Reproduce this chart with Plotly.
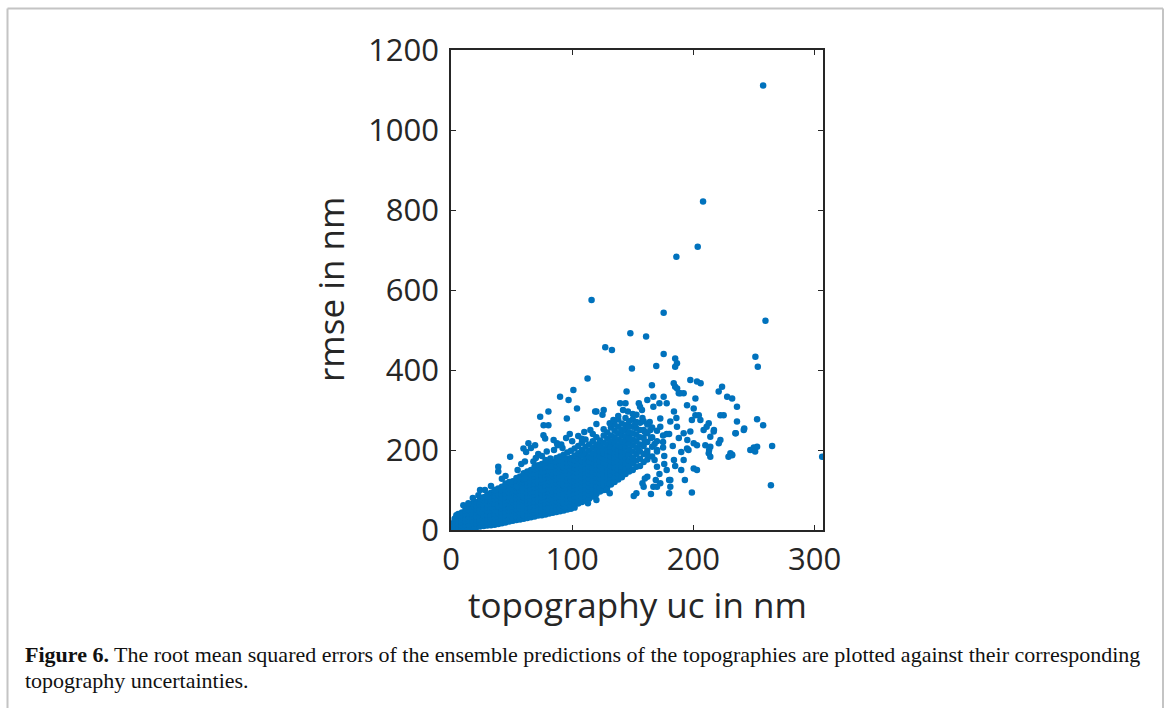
import plotly.graph_objects as go

# Dense core of the cloud: one column of rmse values (nm) per topography-uc value (nm)
core_x = [1, 3, 6, 9, 12, 15, 18, 21, 24, 27, 30, 33, 36, 39, 42, 45, 48, 51, 54, 57,
          60, 63, 66, 69, 72, 75, 78, 81, 84, 87, 90, 93, 96, 99, 102]
core_y = [
    [0, 5, 10, 16],
    [0, 7, 14, 21, 28],
    [2, 9, 17, 25, 33, 40],
    [3, 11, 19, 27, 35, 44],
    [4, 12, 21, 30, 39, 48, 55],
    [5, 14, 23, 32, 41, 50, 58],
    [6, 15, 24, 33, 42, 51, 60, 66],
    [7, 16, 25, 34, 43, 52, 61, 70],
    [9, 18, 27, 36, 45, 54, 63, 72, 78],
    [10, 19, 28, 37, 46, 55, 64, 73, 82],
    [11, 20, 29, 38, 47, 56, 65, 74, 83, 88],
    [12, 21, 30, 39, 48, 57, 66, 75, 84, 93],
    [13, 22, 31, 40, 49, 58, 67, 76, 85, 94, 100],
    [15, 24, 33, 42, 51, 60, 69, 78, 87, 96, 104],
    [17, 26, 35, 44, 53, 62, 71, 80, 89, 98, 108],
    [19, 28, 37, 46, 55, 64, 73, 82, 91, 100, 109, 116],
    [21, 30, 39, 48, 57, 66, 75, 84, 93, 102, 111, 120],
    [23, 32, 41, 50, 59, 68, 77, 86, 95, 104, 113, 122],
    [25, 34, 43, 52, 61, 70, 79, 88, 97, 106, 115, 124, 130],
    [26, 35, 44, 53, 62, 71, 80, 89, 98, 107, 116, 125, 134],
    [28, 37, 46, 55, 64, 73, 82, 91, 100, 109, 118, 127, 136, 142],
    [30, 39, 48, 57, 66, 75, 84, 93, 102, 111, 120, 129, 138, 146],
    [32, 41, 50, 59, 68, 77, 86, 95, 104, 113, 122, 131, 140, 150],
    [34, 43, 52, 61, 70, 79, 88, 97, 106, 115, 124, 133, 142, 151, 158],
    [36, 45, 54, 63, 72, 81, 90, 99, 108, 117, 126, 135, 144, 153, 162],
    [37, 46, 55, 64, 73, 82, 91, 100, 109, 118, 127, 136, 145, 154, 165],
    [39, 48, 57, 66, 75, 84, 93, 102, 111, 120, 129, 138, 147, 156, 168],
    [41, 50, 59, 68, 77, 86, 95, 104, 113, 122, 131, 140, 149, 158, 167, 174],
    [43, 52, 61, 70, 79, 88, 97, 106, 115, 124, 133, 142, 151, 160, 170],
    [45, 54, 63, 72, 81, 90, 99, 108, 117, 126, 135, 144, 153, 162, 171, 180],
    [47, 56, 65, 74, 83, 92, 101, 110, 119, 128, 137, 146, 155, 164, 173, 184],
    [49, 58, 67, 76, 85, 94, 103, 112, 121, 130, 139, 148, 157, 166, 176, 188],
    [51, 60, 69, 78, 87, 96, 105, 114, 123, 132, 141, 150, 159, 168, 178, 194],
    [53, 62, 71, 80, 89, 98, 107, 116, 125, 134, 143, 152, 161, 170, 180, 198],
    [56, 65, 74, 83, 92, 101, 110, 119, 128, 137, 146, 155, 164, 174, 186, 204],
]

# Broader band between 105 and 175 nm
band_x = [105, 108, 111, 114, 117, 120, 123, 126, 129, 132, 135, 138, 141, 144, 147,
          150, 153, 156, 159, 162, 166, 170, 175]
band_y = [
    [66, 76, 86, 96, 106, 116, 126, 136, 146, 156, 166, 178, 192, 210],
    [70, 80, 90, 100, 110, 120, 130, 140, 150, 160, 172, 186, 200, 218],
    [74, 84, 94, 104, 114, 124, 134, 144, 154, 166, 178, 192, 208, 226],
    [78, 88, 98, 108, 118, 128, 140, 150, 160, 172, 184, 198, 214],
    [84, 94, 104, 114, 124, 136, 146, 156, 168, 180, 192, 206, 222, 240],
    [90, 100, 110, 122, 132, 142, 152, 164, 176, 188, 200, 214, 232],
    [96, 106, 118, 128, 138, 150, 160, 172, 184, 196, 210, 224],
    [100, 112, 124, 134, 146, 156, 168, 180, 192, 204, 218, 236, 252],
    [108, 120, 130, 142, 152, 164, 176, 188, 200, 214, 228, 244],
    [114, 126, 138, 148, 160, 172, 184, 196, 208, 222, 236, 256],
    [120, 132, 144, 156, 168, 180, 192, 204, 218, 232, 248, 264],
    [126, 140, 152, 164, 176, 188, 200, 212, 226, 242, 258, 276],
    [132, 146, 158, 170, 184, 196, 208, 222, 236, 250, 266],
    [140, 154, 166, 180, 192, 206, 220, 234, 248, 262, 280],
    [146, 160, 174, 188, 202, 216, 230, 244, 258, 272],
    [150, 166, 180, 196, 212, 226, 242, 258, 276],
    [158, 174, 190, 206, 222, 238, 254, 270, 288],
    [160, 178, 196, 214, 232, 250, 268],
    [170, 190, 210, 230, 250, 272],
    [176, 198, 220, 242, 264],
    [184, 208, 232, 256],
    [196, 222, 248],
    [206, 236],
]

# Individually placed points around and above the cloud
sparse_x = [257.6, 208, 203.6, 186, 116, 175.5, 259.5, 148, 161, 127.3, 132.8, 251.2, 253.2,
            175.5, 185, 186.5, 185, 149.3, 169.4, 112.7, 101, 165.8, 183.8, 186.6, 189.3,
            197.5, 192, 203, 206, 220.9, 223.7, 227.9, 232, 236, 144.9, 97, 104, 95.6,
            80.4, 80.4, 76.3, 77.7, 63.9, 69.4, 59.8, 48.8, 39, 39, 61, 68, 82, 82, 78,
            54.3, 61, 36.4, 24, 22.6, 14.3, 10.2, 29.5, 4.4, 84.7, 87.5, 90, 73.6, 76.4,
            126, 119, 131, 144, 155, 157.6, 167, 175.5, 178, 185, 188, 184, 181, 172.7,
            172.7, 164.5, 186.5, 195, 196, 192, 184, 178, 170, 162, 159, 167, 172.7, 181,
            193, 194.8, 201.7, 200.3, 201.7, 204.5, 205.8, 198.8, 192, 197.5, 200.3, 194.8,
            203, 208.5, 212.7, 216.8, 209.9, 214, 212.7, 222.3, 222.3, 225, 236, 234.7,
            241.6, 252.6, 257.6, 249.9, 252.6, 265, 230.6, 232, 200.3, 203, 198.8, 264,
            306.3, 150.8, 153, 165, 180, 181, 180, 169, 170, 160, 158, 128.7, 131, 131,
            113, 120, 156, 162, 167, 172, 139.6, 120, 125, 211, 217, 214, 235, 242, 229,
            232, 213, 214, 221, 247, 251, 150, 155, 160, 165, 170, 175, 178, 183, 188, 190,
            176, 168, 162, 185, 190, 172, 176, 180, 186, 164, 158, 150, 146, 138, 134, 142,
            152, 160, 168,
            62, 66, 72, 85, 88, 92, 95, 98, 55, 58, 45, 42, 33, 28, 18, 70, 75, 105, 110,
            115, 120, 108, 100, 79, 91]
sparse_y = [1111, 821, 708, 683, 575, 543, 523, 492, 484, 457, 450, 433, 408,
            440, 429, 417, 408, 404, 410, 379, 350, 362, 367, 354, 342,
            375, 342, 371, 367, 346, 358, 333, 329, 308, 346, 325, 304, 279,
            296, 262, 237, 229, 217, 212, 204, 183, 158, 146, 171, 171, 179, 158, 175,
            108, 129, 100, 100, 87, 67, 62, 83, 37, 225, 217, 333, 283, 262,
            300, 296, 267, 317, 317, 300, 333, 333, 317, 358, 342, 296, 271, 279,
            258, 250, 258, 225, 200, 175, 175, 150, 158, 133, 108, 108, 117, 125,
            125, 312, 329, 304, 287, 287, 275, 275, 242, 246, 217, 204,
            212, 250, 267, 246, 212, 208, 192, 225, 287, 287, 271, 242,
            250, 277, 262, 206, 208, 210, 192, 187, 154, 150, 94, 112,
            183, 85, 92, 90, 125, 108, 92, 125, 108, 129, 117, 100, 92, 117,
            67, 75, 308, 325, 308, 317, 317, 296, 288, 258, 250, 233, 242, 254, 183,
            188, 200, 183, 217, 200, 196, 180, 200, 220, 230, 200, 220, 240, 210, 230, 195,
            185, 175, 190, 160, 150, 140, 165, 240, 280, 270, 280, 290, 296, 285, 275, 300,
            265, 245, 215,
            195, 205, 190, 200, 212, 205, 230, 240, 150, 165, 135, 128, 110, 100, 80, 180,
            185, 235, 245, 250, 265, 228, 222, 196, 214]

x_ticks = [0, 100, 200, 300]
y_ticks = [0, 200, 400, 600, 800, 1000, 1200]

caption_bold = "Figure 6."
caption_line1 = (" The root mean squared errors of the ensemble predictions of the topographies "
                 "are plotted against their corresponding")
caption_line2 = "topography uncertainties."

xs, ys = [], []
for cx, col in zip(core_x, core_y):
    xs += [cx] * len(col)
    ys += col
for cx, col in zip(band_x, band_y):
    xs += [cx] * len(col)
    ys += col
xs += sparse_x
ys += sparse_y

AX = "#262626"
SANS = "Open Sans"

fig = go.Figure(go.Scatter(
    x=xs, y=ys, mode="markers",
    marker=dict(size=6.5, color="#0072BD", line=dict(width=0)),
    hoverinfo="x+y",
))

axis_common = dict(
    showgrid=False, zeroline=False, showline=True, mirror="ticks",
    linecolor=AX, linewidth=1.5, ticks="inside", ticklen=5, tickwidth=1.2,
    tickcolor=AX, tickfont=dict(family=SANS, size=31, color=AX),
)

fig.update_layout(
    width=1170, height=708,
    margin=dict(l=451, r=347, t=50, b=178, autoexpand=False),
    paper_bgcolor="white", plot_bgcolor="white",
    showlegend=False,
    xaxis=dict(range=[0, 307], tickvals=x_ticks, ticklabelstandoff=1, **axis_common),
    yaxis=dict(range=[0, 1200], tickvals=y_ticks, ticklabelstandoff=4, **axis_common),
)

# Axis titles
fig.add_annotation(text="topography uc in nm", xref="paper", yref="paper",
                   x=(637 - 451) / 372, y=(530 - 604) / 480, xanchor="center", yanchor="middle",
                   showarrow=False, font=dict(family=SANS, size=35, color=AX))
fig.add_annotation(text="rmse in nm", xref="paper", yref="paper", textangle=-90,
                   x=(330 - 451) / 372, y=0.5, xanchor="center", yanchor="middle",
                   showarrow=False, font=dict(family=SANS, size=35, color=AX))

# Caption
SERIF = "Liberation Serif"
fig.add_annotation(text=f"<b>{caption_bold}</b>{caption_line1}", xref="paper", yref="paper",
                   x=(23 - 451) / 372, y=(530 - 654) / 480, xanchor="left", yanchor="middle",
                   showarrow=False, font=dict(family=SERIF, size=22, color="#111111"))
fig.add_annotation(text=caption_line2, xref="paper", yref="paper",
                   x=(23 - 451) / 372, y=(530 - 680) / 480, xanchor="left", yanchor="middle",
                   showarrow=False, font=dict(family=SERIF, size=22, color="#111111"))


# Frame around the figure panel (open at the bottom)
def px_x(p):
    return (p - 451) / 372


def px_y(p):
    return (530 - p) / 480


frame = dict(type="line", xref="paper", yref="paper", line=dict(color="#c4c4c4", width=2))
fig.add_shape(x0=px_x(7.5), x1=px_x(7.5), y0=px_y(8.5), y1=px_y(720), **frame)
fig.add_shape(x0=px_x(1163), x1=px_x(1163), y0=px_y(8.5), y1=px_y(720), **frame)
fig.add_shape(x0=px_x(7.5), x1=px_x(1163), y0=px_y(8.5), y1=px_y(8.5), **frame)

fig.write_html("out.html")
